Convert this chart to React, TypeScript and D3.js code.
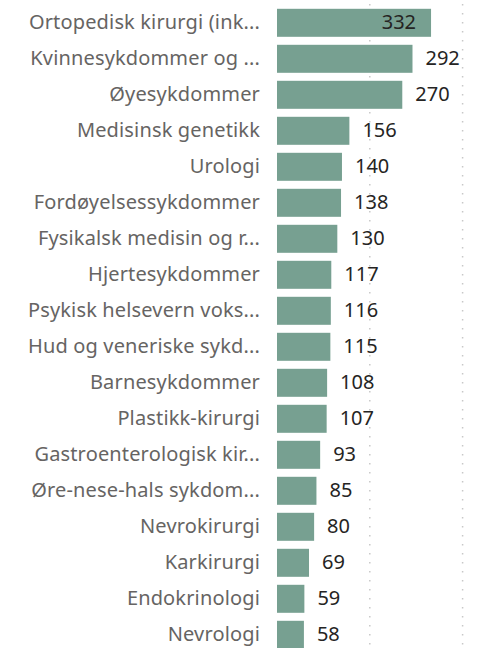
import React from "react";
import * as d3 from "d3";

const categories = [
  "Ortopedisk kirurgi (ink...",
  "Kvinnesykdommer og ...",
  "Øyesykdommer",
  "Medisinsk genetikk",
  "Urologi",
  "Fordøyelsessykdommer",
  "Fysikalsk medisin og r...",
  "Hjertesykdommer",
  "Psykisk helsevern voks...",
  "Hud og veneriske sykd...",
  "Barnesykdommer",
  "Plastikk-kirurgi",
  "Gastroenterologisk kir...",
  "Øre-nese-hals sykdom...",
  "Nevrokirurgi",
  "Karkirurgi",
  "Endokrinologi",
  "Nevrologi",
];
const values = [332, 292, 270, 156, 140, 138, 130, 117, 116, 115, 108, 107, 93, 85, 80, 69, 59, 58];
const gridTicks = [200, 400];

const W = 477;
const H = 648;

export default function App() {
  const x = d3.scaleLinear().domain([0, 400]).range([277, 462.6]);
  const y = d3
    .scaleBand<string>()
    .domain(categories)
    .range([4.8, 652.8])
    .paddingInner(0.222)
    .paddingOuter(0.111);
  const font = "'Noto Sans', 'Open Sans', sans-serif";
  return (
    <svg
      width={W}
      height={H}
      style={{ position: "absolute", left: 0, top: 0, background: "#fff" }}
    >
      {gridTicks.map((t) => (
        <line
          key={t}
          x1={x(t)}
          x2={x(t)}
          y1={4}
          y2={H}
          stroke="#c8c8c8"
          strokeWidth={1.5}
          strokeDasharray="1.5,7.5"
        />
      ))}
      {categories.map((c, i) => {
        const v = values[i];
        const y0 = y(c)!;
        const cy = y0 + y.bandwidth() / 2;
        const inside = x(v) + 13 + 36 > W - 8;
        return (
          <g key={c}>
            <text
              x={260}
              y={cy}
              dy="0.33em"
              textAnchor="end"
              fontFamily={font}
              fontSize={20}
              letterSpacing={0.15}
              fill="#666463"
            >
              {c}
            </text>
            <rect
              x={x(0)}
              y={y0}
              width={x(v) - x(0)}
              height={y.bandwidth()}
              fill="#77a091"
            />
            <text
              x={inside ? x(v) - 15 : x(v) + 13}
              y={cy}
              dy="0.33em"
              textAnchor={inside ? "end" : "start"}
              fontFamily={font}
              fontSize={20}
              fill="#252423"
            >
              {v}
            </text>
          </g>
        );
      })}
    </svg>
  );
}
